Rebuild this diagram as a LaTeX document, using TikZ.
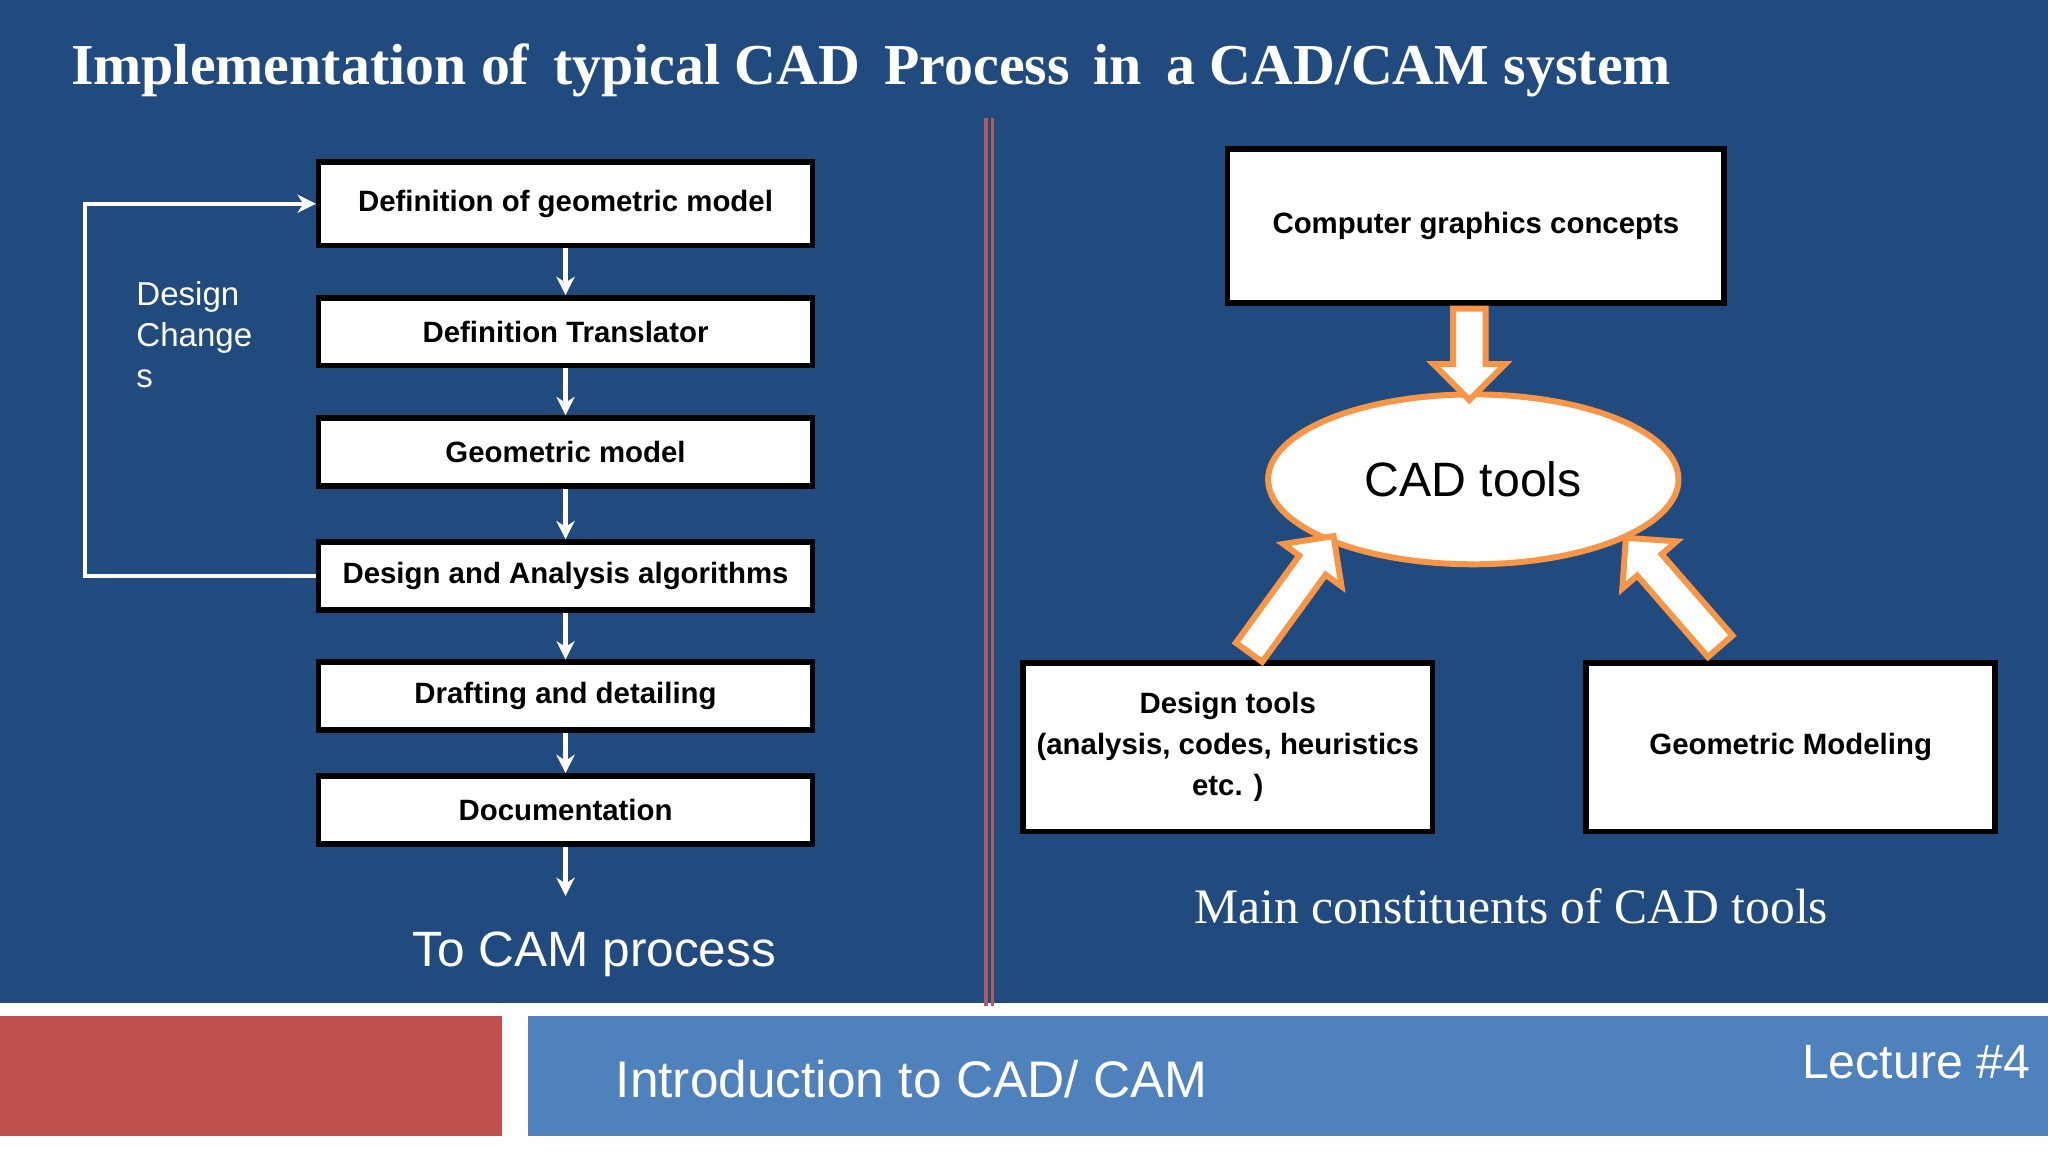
\documentclass[tikz,border=0pt]{standalone}
\usepackage{fontspec}
\setmainfont{Liberation Serif}
\setsansfont{Liberation Sans}
\usetikzlibrary{shapes.geometric,shapes.arrows,arrows.meta}
\definecolor{slideblue}{HTML}{214A7E}
\definecolor{barblue}{HTML}{4F81BD}
\definecolor{barred}{HTML}{C0504D}
\definecolor{toolorange}{HTML}{F79646}
\tikzset{
  stage/.style={draw=black,line width=1.2pt,fill=white,minimum width=3.78cm,minimum height=0.52cm,
    font=\sffamily\bfseries\fontsize{6.4}{7.5}\selectfont,inner sep=0pt},
  part/.style={draw=black,line width=1.2pt,fill=white,minimum width=3.13cm,minimum height=1.29cm,
    font=\sffamily\bfseries\fontsize{6.4}{8.9}\selectfont,align=center,inner sep=0pt},
  down/.style={white,line width=0.9pt,-{Stealth[length=4pt,width=4pt]}},
  fat/.style={single arrow,draw=toolorange,line width=1.3pt,fill=white,minimum width=0.55cm,
    single arrow head extend=0.1cm,inner sep=0.06cm}
}
\begin{document}
\begin{tikzpicture}[x=0.01cm,y=-0.01cm]
\useasboundingbox (0,0) rectangle (1568,882);
\fill[slideblue] (0,0) rectangle (1568,768);
\fill[barred] (0,778) rectangle (384,870);
\fill[barblue] (404,778) rectangle (1568,870);

\node[font=\bfseries\fontsize{12.6}{14}\selectfont,white,anchor=west] (title) at (42,54)
  {Implementation of\, typical CAD\, Process\, in\, a CAD/CAM system};
\draw[barred!70!gray,line width=0.8pt] (755,90)--(755,770) (760,90)--(760,770);

% left: process steps
\node[stage,minimum height=0.64cm] (geo) at (433,156) {Definition of geometric model};
\node[stage] (trans) at (433,254) {Definition Translator};
\node[stage] (model) at (433,346) {Geometric model};
\node[stage] (alg) at (433,441) {Design and Analysis algorithms};
\node[stage] (draft) at (433,533) {Drafting and detailing};
\node[stage] (doc) at (433,620) {Documentation};
\coordinate (cam) at (433,686);
\draw[down] (geo)--(trans);
\draw[down] (trans)--(model);
\draw[down] (model)--(alg);
\draw[down] (alg)--(draft);
\draw[down] (draft)--(doc);
\draw[down] (doc)--(cam);
\node[white,font=\sffamily\fontsize{10.8}{12}\selectfont] (camtext) at (455,731) {To CAM process};
\draw[down] (alg.west) -- (65,441) |- (geo.west);
\node[white,font=\sffamily\fontsize{7.2}{8.9}\selectfont,align=left,anchor=north west] (change) at (92,203)
  {Design\\Change\\s};

% right: CAD tools
\node[part,minimum width=3.8cm,minimum height=1.18cm] (cg) at (1130,173) {Computer graphics concepts};
\node[ellipse,draw=toolorange,line width=1.3pt,fill=white,minimum width=3.14cm,minimum height=1.3cm,
  font=\sffamily\fontsize{10.5}{12}\selectfont] (cad) at (1128,367) {CAD tools};
\node[part] (dt) at (940,572) {Design tools\\(analysis, codes, heuristics\\etc. )};
\node[part] (gm) at (1371,572) {Geometric Modeling};
\node[fat,minimum height=0.7cm,rotate=-90] (a1) at (1125,265) {};
\node[fat,minimum height=1.1cm,rotate=54] (a2) at (985,460) {};
\node[fat,minimum height=1.1cm,rotate=131] (a3) at (1285,458) {};
\node[white,font=\fontsize{10.8}{12}\selectfont] (caption) at (1157,694) {Main constituents of CAD tools};

% footer
\node[white,font=\sffamily\fontsize{11.2}{12}\selectfont] (course) at (698,826) {Introduction to CAD/ CAM};
\node[white,font=\sffamily\fontsize{10.5}{12}\selectfont] (lecture) at (1467,813) {Lecture \#4};
\end{tikzpicture}
\end{document}
